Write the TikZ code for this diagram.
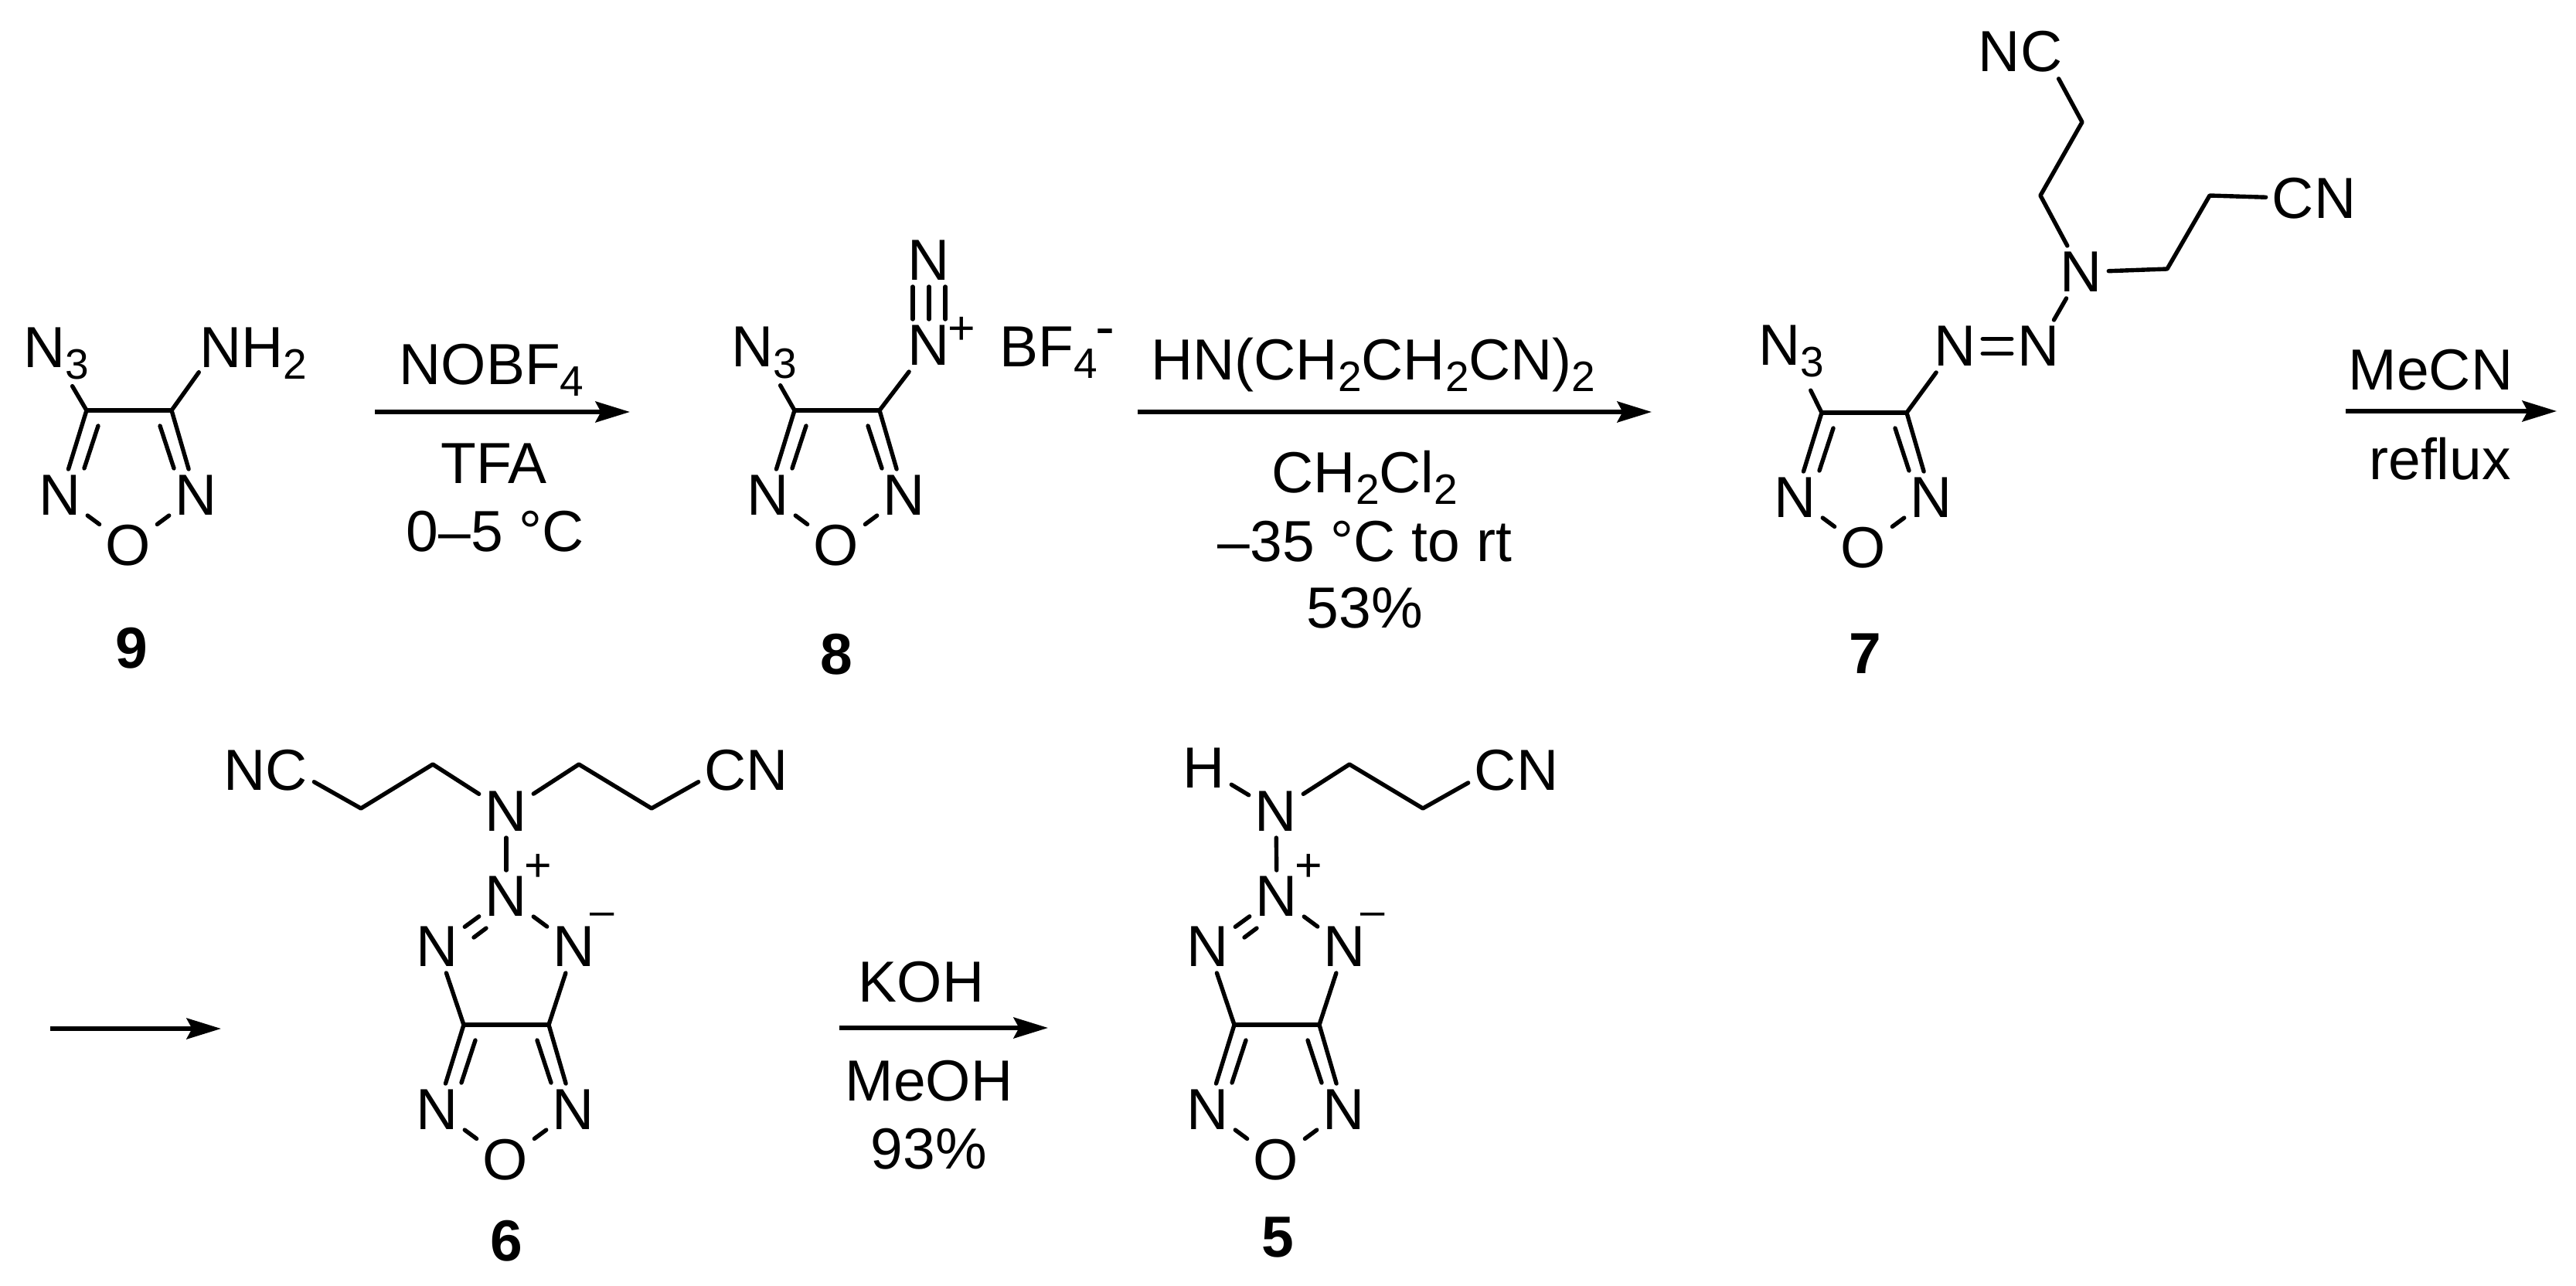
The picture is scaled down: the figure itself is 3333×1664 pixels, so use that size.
\documentclass[tikz,border=0pt]{standalone}
\usepackage{fontspec}
\setmainfont{Liberation Sans}
\usetikzlibrary{arrows.meta}
\newcommand{\sbs}[1]{\raisebox{-13.6pt}{\fontsize{47pt}{47pt}\selectfont #1}}
\tikzset{
  x=0.03cm,y=-0.03cm,
  bond/.style={line width=4.6pt,line cap=round,line join=round},
  rxn/.style={line width=4.8pt,-{Stealth[length=38pt,width=23pt,inset=6pt]}},
  atom/.style={inner sep=6.8pt,font=\fontsize{64pt}{64pt}\selectfont},
  atomb/.style={atom,anchor=base},
  txt/.style={inner sep=0pt,anchor=base,font=\fontsize{64pt}{64pt}\selectfont},
  cpd/.style={inner sep=0pt,anchor=base,font=\fontsize{64pt}{64pt}\selectfont\bfseries},
  plusc/.style={inner sep=0pt,anchor=base,font=\fontsize{52pt}{52pt}\selectfont},
  minusc/.style={inner sep=0pt,anchor=base,font=\fontsize{48pt}{48pt}\selectfont},
}
\newcommand{\furazanring}[3]{%
  \begin{scope}[shift={(#2,#3)}]
    \coordinate (#1a) at (0,0);
    \coordinate (#1b) at (110,0);
    \coordinate (#1ia) at (15,20);
    \coordinate (#1ja) at (-3,75);
    \coordinate (#1ib) at (95,20);
    \coordinate (#1jb) at (113,75);
    \node[atom] (#1l) at (-34,110) {N};
    \node[atom] (#1r) at (142,110) {N};
    \node[atom] (#1o) at (54,175) {O};
    \draw[bond] (#1a) -- (#1b);
    \draw[bond] (#1a) -- (#1l);
    \draw[bond] (#1b) -- (#1r);
    \draw[bond] (#1ia) -- (#1ja);
    \draw[bond] (#1ib) -- (#1jb);
    \draw[bond] (#1l) -- (#1o);
    \draw[bond] (#1r) -- (#1o);
  \end{scope}}
\newcommand{\triazolering}[3]{%
  \begin{scope}[shift={(#2,#3)}]
    \node[atom] (#1p) at (55,-166) {N};
    \node[atom] (#1tl) at (-34,-101) {N};
    \node[atom] (#1tr) at (143,-101) {N};
    \node[plusc] (#1plus) at (96,-186) {+};
    \node[minusc] (#1minus) at (179,-129) {–};
    \coordinate (#1da) at (29,-125);
    \coordinate (#1db) at (13,-113);
    \draw[bond] (#1p) -- (#1tl);
    \draw[bond] (#1da) -- (#1db);
    \draw[bond] (#1p) -- (#1tr);
    \draw[bond] (#1tl) -- (#1a);
    \draw[bond] (#1tr) -- (#1b);
  \end{scope}}
\begin{document}
\begin{tikzpicture}
\useasboundingbox (0,0) rectangle (3333,1664);
% compound 9
\furazanring{f}{112}{531}
\node[atomb] (fn3) at (73,475) {N\sbs{3}};
\node[atomb] (fnh) at (328,475) {NH\sbs{2}};
\draw[bond] (fa) -- (fn3.-64);
\draw[bond,shorten >=7pt] (fb) -- ([xshift=10pt]fnh.base west);
\node[cpd] (c9) at (170,864) {9};
% arrow 1
\coordinate (a1s) at (485,533);
\coordinate (a1e) at (815,533);
\draw[rxn] (a1s) -- (a1e);
\node[txt] (t1a) at (636,497) {NOBF\sbs{4}};
\node[txt] (t1b) at (639,625) {TFA};
\node[txt] (t1c) at (641,713) {0–5 °C};
% compound 8
\furazanring{g}{1028}{531}
\node[atomb] (gn3) at (989,474) {N\sbs{3}};
\node[atom] (gp) at (1202,447) {N};
\node[atom] (gq) at (1202,337) {N};
\node[plusc] (gplus) at (1244,445) {+};
\node[txt,anchor=base west] (bf) at (1293,474) {BF\sbs{4}};
\node[txt] (bfm) at (1430,448) {-};
\draw[bond] (ga) -- (gn3.-64);
\draw[bond] (gb) -- (gp);
\draw[bond] (gp) -- (gq);
\draw[bond] ([xshift=-18pt]gp.north) -- ([xshift=-18pt]gq.south);
\draw[bond] ([xshift=18pt]gp.north) -- ([xshift=18pt]gq.south);
\node[cpd] (c8) at (1082,872) {8};
% arrow 2
\coordinate (a2s) at (1472,533);
\coordinate (a2e) at (2137,533);
\draw[rxn] (a2s) -- (a2e);
\node[txt] (t2a) at (1777,491) {HN(CH\sbs{2}CH\sbs{2}CN)\sbs{2}};
\node[txt] (t2b) at (1766,637) {CH\sbs{2}Cl\sbs{2}};
\node[txt] (t2c) at (1766,726) {–35 °C to rt};
\node[txt] (t2d) at (1766,812) {53\%};
% compound 7
\furazanring{h}{2357}{534}
\node[atomb] (hn3) at (2318,472) {N\sbs{3}};
\node[atom] (hna) at (2530,448) {N};
\node[atom] (hnb) at (2638,448) {N};
\node[atom] (hnc) at (2693,352) {N};
\node[atomb] (hnc1) at (2614,93) {NC};
\node[atomb] (hcn1) at (2994,283) {CN};
\coordinate (hv1) at (2640,253);
\coordinate (hv2) at (2694,158);
\coordinate (hv3) at (2804,348);
\coordinate (hv4) at (2859,253);
\draw[bond,shorten >=8pt] (ha) -- (hn3.-64);
\draw[bond] (hb) -- (hna);
\draw[bond] ([yshift=8pt]hna.east) -- ([yshift=8pt]hnb.west);
\draw[bond] ([yshift=-8pt]hna.east) -- ([yshift=-8pt]hnb.west);
\draw[bond] (hnb) -- (hnc);
\draw[bond] (hnc) -- (hv1) -- (hv2) -- (hnc1.-35);
\draw[bond] (hnc) -- (hv3) -- (hv4) -- (hcn1);
\node[cpd] (c7) at (2413,871) {7};
% arrow 3
\coordinate (a3s) at (3035,532);
\coordinate (a3e) at (3308,532);
\draw[rxn] (a3s) -- (a3e);
\node[txt] (t3a) at (3145,504) {MeCN};
\node[txt] (t3b) at (3157,620) {reflux};
% arrow 3 continued
\coordinate (a4s) at (65,1331);
\coordinate (a4e) at (286,1331);
\draw[rxn] (a4s) -- (a4e);
% compound 6
\furazanring{k}{600}{1326}
\triazolering{k}{600}{1326}
\node[atom] (kn) at (655,1050) {N};
\node[atomb] (knc) at (344,1022) {NC};
\node[atomb] (kcn) at (966,1022) {CN};
\coordinate (kv1) at (560,989);
\coordinate (kv2) at (467,1046);
\coordinate (kv3) at (749,989);
\coordinate (kv4) at (843,1046);
\draw[bond] (kn) -- (kp);
\draw[bond] (kn) -- (kv1) -- (kv2) -- (knc.-14);
\draw[bond] (kn) -- (kv3) -- (kv4) -- (kcn.194);
\node[cpd] (c6) at (655,1631) {6};
% arrow 4
\coordinate (a5s) at (1086,1330);
\coordinate (a5e) at (1356,1330);
\draw[rxn] (a5s) -- (a5e);
\node[txt] (t5a) at (1192,1296) {KOH};
\node[txt] (t5b) at (1202,1424) {MeOH};
\node[txt] (t5c) at (1202,1512) {93\%};
% compound 5
\furazanring{m}{1597}{1326}
\triazolering{m}{1597}{1326}
\node[atom] (mn) at (1651,1050) {N};
\node[atom] (mh) at (1558,994) {H};
\node[atomb] (mcn) at (1962,1022) {CN};
\coordinate (mv1) at (1746,989);
\coordinate (mv2) at (1841,1046);
\draw[bond] (mn) -- (mp);
\draw[bond] (mn) -- (mh);
\draw[bond] (mn) -- (mv1) -- (mv2) -- (mcn.195);
\node[cpd] (c5) at (1653,1626) {5};
\end{tikzpicture}
\end{document}
